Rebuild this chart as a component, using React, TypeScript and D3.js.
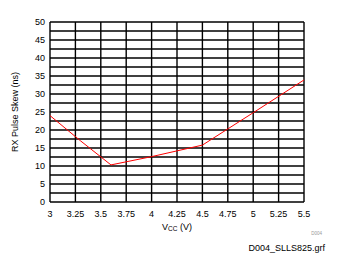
import React from "react";
import * as d3 from "d3";

const vcc = [3.0, 3.3, 3.6, 4.0, 4.5, 5.0, 5.5];
const skew = [24.0, 17.0, 10.3, 12.6, 15.8, 24.8, 33.9];
const xTicks = [3, 3.25, 3.5, 3.75, 4, 4.25, 4.5, 4.75, 5, 5.25, 5.5];
const yTicks = [0, 5, 10, 15, 20, 25, 30, 35, 40, 45, 50];
const yGrid = d3.range(0, 50.01, 2.5);

export default function App() {
  const W = 337, H = 266;
  const m = { l: 50, r: 33, t: 22, b: 64 };
  const x = d3.scaleLinear().domain([3, 5.5]).range([m.l, W - m.r]);
  const y = d3.scaleLinear().domain([0, 50]).range([H - m.b, m.t]);
  const line = d3.line<number>().x((_, i) => x(vcc[i])).y((d) => y(d));
  const font = "'Liberation Sans', Arial, sans-serif";
  return (
    <svg width={W} height={H} style={{ position: "absolute", left: 0, top: 0 }} fontFamily={font}>
      <rect width={W} height={H} fill="#fff" />
      {yGrid.map((v) => (
        <line key={"h" + v} x1={m.l} x2={W - m.r} y1={y(v)} y2={y(v)} stroke="#000" strokeWidth={1.4} />
      ))}
      {xTicks.map((v) => (
        <line key={"v" + v} x1={x(v)} x2={x(v)} y1={m.t} y2={H - m.b} stroke="#000" strokeWidth={1.4} />
      ))}
      <path d={line(skew) || ""} fill="none" stroke="#ff0000" strokeWidth={1} />
      {yTicks.map((v) => (
        <text key={"yt" + v} x={m.l - 5} y={y(v)} dy="0.35em" textAnchor="end" fontSize={9}>{v}</text>
      ))}
      {xTicks.map((v) => (
        <text key={"xt" + v} x={x(v)} y={H - m.b + 12} dy="0.35em" textAnchor="middle" fontSize={9}>{v}</text>
      ))}
      <text transform={`translate(15,${(m.t + H - m.b) / 2}) rotate(-90)`} textAnchor="middle" dy="0.35em" fontSize={9}>RX Pulse Skew (ns)</text>
      <text x={x(4.25)} y={227} dy="0.35em" textAnchor="middle" fontSize={9}>
        V<tspan fontSize={6.5} dy="1">CC</tspan><tspan dy="-1"> (V)</tspan>
      </text>
      <text x={322} y={233} dy="0.35em" textAnchor="end" fontSize={4.5} fill="#999">D004</text>
      <text x={325} y={248} dy="0.35em" textAnchor="end" fontSize={9}>D004_SLLS825.grf</text>
    </svg>
  );
}
